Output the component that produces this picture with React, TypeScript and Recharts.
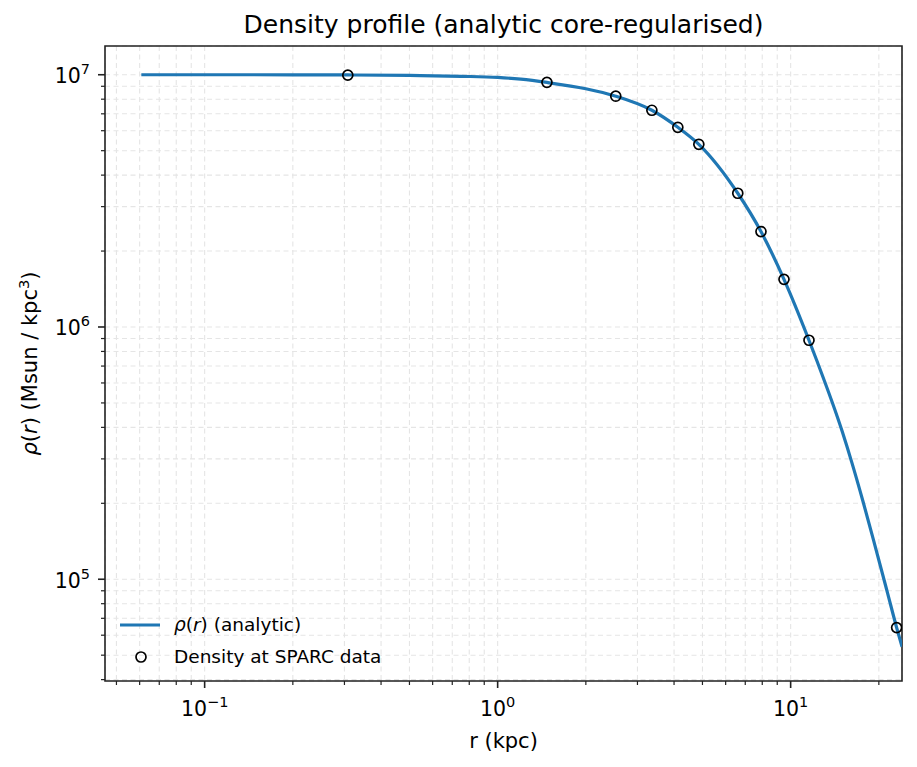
import React from "react";
import {
  ComposedChart,
  Line,
  Scatter,
  XAxis,
  YAxis,
  CartesianGrid,
  ReferenceArea,
  Legend,
  Label,
} from "recharts";

// analytic profile
const lineR = [
  0.0608, 0.1, 0.2, 0.308, 0.5, 0.75, 1.0, 1.2, 1.473, 2.0, 2.53, 3.36, 4.12,
  4.86, 6.6, 7.92, 9.49, 11.55, 12.27, 15.0, 16.15, 17.69, 19.4, 21.44, 23.0,
  24.0,
];
const lineRho = [
  1.0e7, 1.0e7, 9.995e6, 9.98e6, 9.94e6, 9.86e6, 9.76e6, 9.6e6, 9.32e6,
  8.8e6, 8.22e6, 7.23e6, 6.19e6, 5.3e6, 3.39e6, 2.39e6, 1.545e6, 8.86e5,
  7.38e5, 3.85e5, 2.92e5, 2.02e5, 1.36e5, 8.77e4, 6.43e4, 5.4e4,
];

// SPARC sample radii
const sparcR = [0.308, 1.473, 2.53, 3.36, 4.12, 4.86, 6.6, 7.92, 9.49, 11.55, 23.0];
const sparcRho = [
  9.96e6, 9.33e6, 8.22e6, 7.23e6, 6.19e6, 5.3e6, 3.39e6, 2.39e6, 1.545e6,
  8.86e5, 6.43e4,
];

const xMajor = [0.1, 1, 10];
const xMinor = [
  0.05, 0.06, 0.07, 0.08, 0.09, 0.2, 0.3, 0.4, 0.5, 0.6, 0.7, 0.8, 0.9, 2, 3,
  4, 5, 6, 7, 8, 9, 20,
];
const yMajor = [1e5, 1e6, 1e7];
const yMinor = [
  4e4, 5e4, 6e4, 7e4, 8e4, 9e4, 2e5, 3e5, 4e5, 5e5, 6e5, 7e5, 8e5, 9e5, 2e6,
  3e6, 4e6, 5e6, 6e6, 7e6, 8e6, 9e6,
];

const X_DOMAIN = [0.0457, 23.99];
const Y_DOMAIN = [3.95e4, 1.3e7];

const lineData = lineR.map((r, i) => ({ r, rho: lineRho[i] }));
const sparcData = sparcR.map((r, i) => ({ r, rho: sparcRho[i] }));
const xTicks = [...xMajor, ...xMinor].sort((a, b) => a - b);
const yTicks = [...yMajor, ...yMinor].sort((a, b) => a - b);

const FONT = "'DejaVu Sans', sans-serif";
const BLUE = "#1f77b4";
const SPINE = "#222";

const isMajor = (v: number) =>
  Math.abs(Math.log10(v) - Math.round(Math.log10(v))) < 1e-9;
const expText = (v: number) => {
  const e = Math.round(Math.log10(v));
  return e < 0 ? "\u2212" + Math.abs(e) : String(e);
};

const XTick = (props: any) => {
  const { x, y, payload } = props;
  const major = isMajor(payload.value);
  return (
    <g>
      <line
        x1={x}
        x2={x}
        y1={y}
        y2={y + (major ? 7 : 4)}
        stroke={SPINE}
        strokeWidth={major ? 1.6 : 1.2}
      />
      {major && (
        <text x={x} y={y + 35} textAnchor="middle" fontSize={20.5} fontFamily={FONT} fill="#000">
          10
          <tspan dy={-9} fontSize={14.5}>
            {expText(payload.value)}
          </tspan>
        </text>
      )}
    </g>
  );
};

const YTick = (props: any) => {
  const { x, y, payload } = props;
  const major = isMajor(payload.value);
  return (
    <g>
      <line
        x1={x - (major ? 7 : 4)}
        x2={x}
        y1={y}
        y2={y}
        stroke={SPINE}
        strokeWidth={major ? 1.6 : 1.2}
      />
      {major && (
        <text x={x - 15} y={y + 8.5} textAnchor="end" fontSize={20.5} fontFamily={FONT} fill="#000">
          10
          <tspan dy={-9} fontSize={14.5}>
            {expText(payload.value)}
          </tspan>
        </text>
      )}
    </g>
  );
};

const renderLegend = () => (
  <svg width={280} height={70} style={{ display: "block" }}>
    <line x1={8} x2={48} y1={20} y2={20} stroke={BLUE} strokeWidth={3.2} />
    <text x={62} y={26} fontSize={18.5} fontFamily={FONT} fill="#000">
      <tspan fontStyle="italic">ρ</tspan>(<tspan fontStyle="italic">r</tspan>) (analytic)
    </text>
    <circle cx={29} cy={52} r={5} fill="none" stroke="#000" strokeWidth={1.7} />
    <text x={62} y={57.7} fontSize={18.5} fontFamily={FONT} fill="#000">
      Density at SPARC data
    </text>
  </svg>
);

const App = () => {
  return (
    <div style={{ position: "relative", width: 917, height: 767, background: "#fff" }}>
      <style>{"body{margin:0}"}</style>
      <svg
        width={917}
        height={45}
        style={{ position: "absolute", left: 0, top: 0, pointerEvents: "none" }}
      >
        <text x={503.5} y={33} textAnchor="middle" fontSize={25} fontFamily={FONT} fill="#000">
          Density profile (analytic core-regularised)
        </text>
      </svg>
      <ComposedChart
        width={917}
        height={767}
        margin={{ top: 46, right: 15, bottom: 6, left: 45 }}
      >
        <CartesianGrid stroke="#e5e5e5" strokeDasharray="5 3.5" strokeWidth={1.1} />
        <XAxis
          dataKey="r"
          type="number"
          scale="log"
          domain={X_DOMAIN}
          allowDataOverflow
          ticks={xTicks}
          interval={0}
          tick={<XTick />}
          tickLine={false}
          tickSize={0}
          tickMargin={0}
          axisLine={false}
          height={80}
        >
          <Label
            content={(p: any) => {
              const vb = p.viewBox;
              return (
                <text
                  x={vb.x + vb.width / 2}
                  y={vb.y + 67}
                  textAnchor="middle"
                  fontSize={21}
                  fontFamily={FONT}
                  fill="#000"
                >
                  r (kpc)
                </text>
              );
            }}
          />
        </XAxis>
        <YAxis
          dataKey="rho"
          type="number"
          scale="log"
          domain={Y_DOMAIN}
          allowDataOverflow
          ticks={yTicks}
          interval={0}
          tick={<YTick />}
          tickLine={false}
          tickSize={0}
          tickMargin={0}
          axisLine={false}
          width={60}
        >
          <Label
            content={(p: any) => {
              const vb = p.viewBox;
              const bx = vb.x + vb.width - 67.7;
              const cy = vb.y + vb.height / 2;
              return (
                <text
                  transform={`translate(${bx},${cy}) rotate(-90)`}
                  textAnchor="middle"
                  fontSize={21}
                  fontFamily={FONT}
                  fill="#000"
                >
                  <tspan fontStyle="italic">ρ</tspan>(<tspan fontStyle="italic">r</tspan>) (Msun / kpc
                  <tspan dy={-8} fontSize={14.7}>
                    3
                  </tspan>
                  <tspan dy={8}>)</tspan>
                </text>
              );
            }}
          />
        </YAxis>
        <Line
          data={lineData}
          dataKey="rho"
          type="monotone"
          stroke={BLUE}
          strokeWidth={3.2}
          dot={false}
          activeDot={false}
          isAnimationActive={false}
        />
        <Scatter
          data={sparcData}
          dataKey="rho"
          isAnimationActive={false}
          shape={(p: any) => (
            <circle cx={p.cx} cy={p.cy} r={5} fill="none" stroke="#000" strokeWidth={1.7} />
          )}
        />
        <ReferenceArea
          x1={X_DOMAIN[0]}
          x2={X_DOMAIN[1]}
          y1={Y_DOMAIN[0]}
          y2={Y_DOMAIN[1]}
          fill="none"
          stroke={SPINE}
          strokeWidth={1.6}
          ifOverflow="visible"
        />
        <Legend
          layout="vertical"
          align="center"
          verticalAlign="middle"
          content={renderLegend}
          wrapperStyle={{ left: 112, top: 605, width: 280, height: 70 }}
        />
      </ComposedChart>
    </div>
  );
};

export default App;
